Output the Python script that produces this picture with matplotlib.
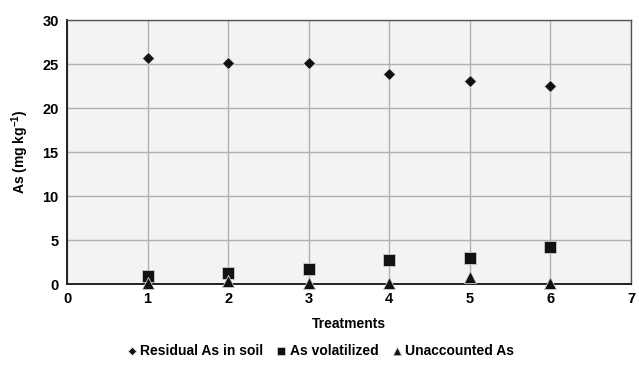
import matplotlib.pyplot as plt

plt.rcParams["font.family"] = ["Liberation Sans", "DejaVu Sans"]
plt.rcParams["font.weight"] = "bold"
plt.rcParams["mathtext.fontset"] = "custom"
plt.rcParams["mathtext.rm"] = "Liberation Sans:bold"
plt.rcParams["mathtext.default"] = "rm"

treatments = [1, 2, 3, 4, 5, 6]
residual_as = [25.7, 25.1, 25.1, 23.9, 23.1, 22.5]
volatilized_as = [0.9, 1.25, 1.65, 2.7, 2.95, 4.2]
unaccounted_as = [0.1, 0.3, 0.1, 0.1, 0.8, 0.1]

fig = plt.figure(figsize=(6.39, 3.70), dpi=100)
ax = fig.add_axes([67 / 639, 1 - 284 / 370, (631 - 67) / 639, (284 - 20) / 370])
ax.set_facecolor("#f3f3f3")

ax.scatter(treatments, residual_as, marker="D", s=38, color="#111111",
           edgecolors="#dddddd", linewidths=0.6, label="Residual As in soil", zorder=3, clip_on=False)
ax.scatter(treatments, volatilized_as, marker="s", s=70, color="#111111",
           edgecolors="#cccccc", linewidths=0.6, label="As volatilized", zorder=3, clip_on=False)
ax.scatter(treatments, unaccounted_as, marker="^", s=75, color="#111111",
           edgecolors="#cccccc", linewidths=0.6, label="Unaccounted As", zorder=4, clip_on=False)

ax.set_xlim(0, 7)
ax.set_ylim(0, 30)
ax.set_xticks(range(0, 8))
ax.set_yticks(range(0, 31, 5))
ax.grid(True, color="#b0b0b0", linewidth=1.0)
ax.set_axisbelow(True)
ax.tick_params(length=0, labelsize=10.5, pad=6)
for lbl in ax.get_xticklabels() + ax.get_yticklabels():
    lbl.set_fontweight("bold")
for side in ("top", "right"):
    ax.spines[side].set_color("#555555")
    ax.spines[side].set_linewidth(1.0)
for side in ("left", "bottom"):
    ax.spines[side].set_color("#222222")
    ax.spines[side].set_linewidth(1.4)

ax.set_xlabel("Treatments", fontsize=10, fontweight="bold", labelpad=8)
ax.set_ylabel("As (mg kg$^{-1}$)", fontsize=10, fontweight="bold", labelpad=8)

leg = fig.legend(loc="center", bbox_to_anchor=(0.5, 1 - 351 / 370), ncol=3,
                 frameon=False, fontsize=10, handletextpad=0.1, columnspacing=0.8,
                 markerscale=0.7, handlelength=1.0)
for t in leg.get_texts():
    t.set_fontweight("bold")

fig.savefig("out.png", dpi=100)
